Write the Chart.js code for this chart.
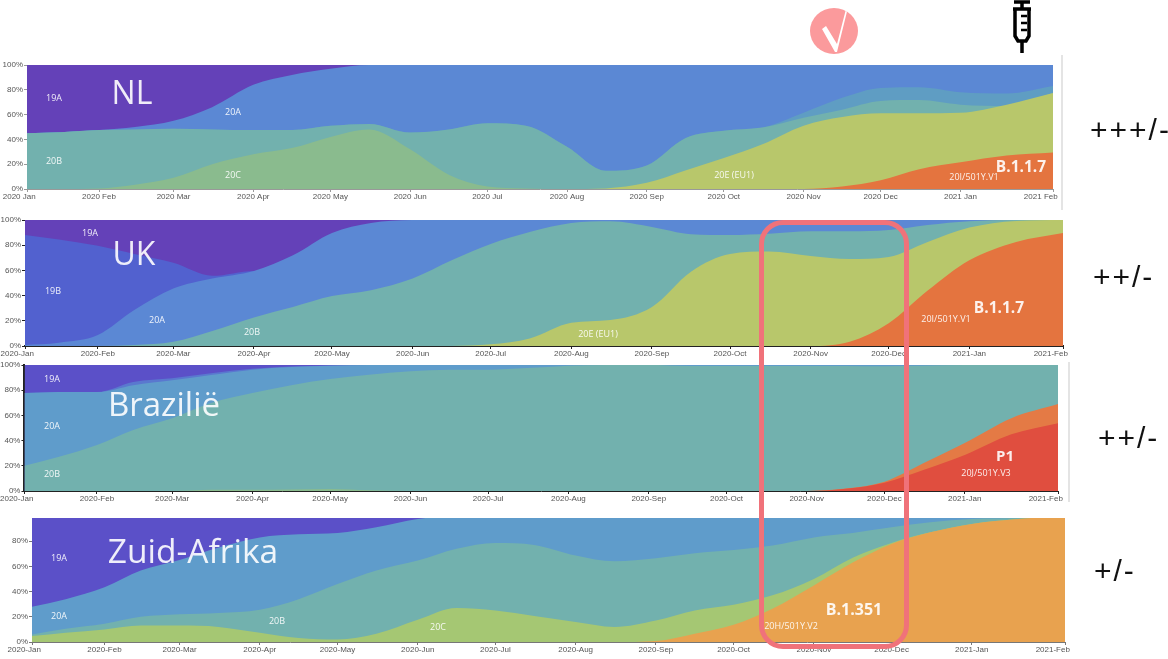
<!DOCTYPE html>
<html>
<head>
<meta charset="utf-8">
<script src="https://cdn.jsdelivr.net/npm/chart.js@4/dist/chart.umd.min.js"></script>
<style>
  html, body { margin: 0; padding: 0; background: #fff; }
  #page { position: relative; width: 1168px; height: 659px; overflow: hidden; font-family: "Open Sans", sans-serif; }
  canvas { position: absolute; left: 0; filter: blur(0.4px); }
  .note { position: absolute; color: #fff; white-space: nowrap; transform: translate(-50%, -50%); opacity: 0.9; }
  .score { position: absolute; color: #111; white-space: nowrap; font-family: "Liberation Sans", sans-serif; font-size: 30px; letter-spacing: 2px; transform: translateY(-50%); }
  #window { position: absolute; left: 759px; top: 220px; width: 140px; height: 419px; border: 5px solid #f0727a; border-radius: 24px; }
  .edge { position: absolute; width: 2px; background: #e4e4e4; }
</style>
</head>
<body>
<div id="page">
  <canvas id="nl" width="1168" height="154" style="top:57px"></canvas>
  <canvas id="uk" width="1168" height="156" style="top:212px"></canvas>
  <canvas id="br" width="1168" height="156" style="top:357px"></canvas>
  <canvas id="za" width="1168" height="154" style="top:510px"></canvas>
  <div class="edge" style="left:1061px;top:55px;height:155px"></div>
  <div class="edge" style="left:1068px;top:362px;height:140px"></div>
  <div id="window"></div>
  <svg style="position:absolute;left:810px;top:8px" width="48" height="46" viewBox="0 0 48 46">
    <ellipse cx="24" cy="23" rx="24" ry="23" fill="#fb9a9c"/>
    <path d="M12 21L16 18L27 36L35.5 3L37 3.5L27 44H25Z" fill="#fff"/>
  </svg>
  <svg style="position:absolute;left:1008px;top:0" width="28" height="54" viewBox="0 0 28 54">
    <path d="M6 2H22M14 2V8M5 9H23M7 9V36L10 41H18L21 36V9M14 41V53" fill="none" stroke="#000" stroke-width="3.5"/>
    <path d="M13 16H19M13 23H19M13 30H19" stroke="#000" stroke-width="2.5"/>
  </svg>
</div>
<script>
// sample days on the axis (month starts and mid months)
const days = [3, 16, 31, 45, 60, 75, 91, 106, 121, 136, 152, 167, 182, 197, 213, 228, 244, 259, 274, 289, 305, 320, 335, 350, 366, 384, 402];
const monthDays = [3, 31, 60, 91, 121, 152, 182, 213, 244, 274, 305, 335, 366, 402];
const monthNames = ['2020 Jan', '2020 Feb', '2020 Mar', '2020 Apr', '2020 May', '2020 Jun', '2020 Jul', '2020 Aug', '2020 Sep', '2020 Oct', '2020 Nov', '2020 Dec', '2021 Jan', '2021 Feb'];
const percentTicks = [0, 20, 40, 60, 80, 100];

// every series is the upper edge of its band, in percent
const flat100 = days.map(() => 100);

const nl20A = [45, 45.8, 47.5, 50, 55, 66, 84, 92, 97, 100, 100, 100, 100, 100, 100, 100, 100, 100, 100, 100, 100, 100, 100, 100, 100, 100, 100];
const nlThin = [45, 45.8, 47.5, 48, 48.5, 48, 47.5, 47.5, 51, 52.5, 45.5, 48, 53, 51, 34, 14.7, 19, 41, 47, 49.5, 61.5, 73.5, 81.5, 82, 78, 77, 83];
const nl20B = [45, 45.8, 47.5, 48, 48.5, 48, 47.5, 47.5, 51, 52.5, 45.5, 48, 53, 51, 34, 14.7, 19, 41, 47, 49.5, 57.5, 64, 71, 71.7, 68, 67, 77.5];
const nl20C = [0, 0, 0.5, 3.5, 9, 20, 28, 33, 42, 48, 32, 11.5, 2, 0.5, 0, 0, 0, 0, 0, 0, 0, 0, 0, 0, 0, 0, 0];
const nl20E = [0, 0, 0, 0, 0, 0, 0, 0, 0, 0, 0, 0, 0, 0, 0, 0.5, 5, 15, 25, 36, 51, 58, 61, 61, 61.5, 68, 77.5];
const nl20I = [0, 0, 0, 0, 0, 0, 0, 0, 0, 0, 0, 0, 0, 0, 0, 0, 0, 0, 0, 0, 0, 2, 7, 16, 21.5, 27, 29.5];

const uk19B = [88, 84.5, 79.5, 73, 66, 55.7, 59.6, 0, 0, 0, 0, 0, 0, 0, 0, 0, 0, 0, 0, 0, 0, 0, 0, 0, 0, 0, 0];
const uk20A = [0.8, 2.6, 8.7, 28.5, 45.6, 53.6, 59.6, 72, 89.7, 97.6, 100, 100, 100, 100, 100, 100, 100, 100, 100, 100, 100, 100, 100, 100, 100, 100, 100];
const uk20B = [0, 0, 0, 0.8, 3.4, 12, 22.7, 31, 39.6, 44.3, 53.6, 68, 81, 90.5, 97.6, 99, 94.5, 88.7, 88, 89, 91, 91, 92, 96, 99, 100, 100];
const uk20E = [0, 0, 0, 0, 0, 0, 0, 0, 0, 0, 0, 0, 1.3, 6, 18.5, 20.6, 31, 59, 73, 75, 71.5, 69, 70.7, 82.6, 94, 99.3, 100];
const uk20I = [0, 0, 0, 0, 0, 0, 0, 0, 0, 0, 0, 0, 0, 0, 0, 0, 0, 0, 0, 0, 0, 3.4, 18, 44, 68, 82.6, 89.7];

const br19B = [77.7, 78.5, 78.5, 86.5, 89.5, 93.5, 97, 98.8, 99.6, 100, 100, 100, 100, 100, 100, 100, 100, 100, 100, 100, 100, 100, 100, 100, 100, 100, 100];
const br20A = [77.7, 78.5, 78.5, 84, 87.8, 92, 96.3, 98.4, 99.5, 100, 100, 100, 100, 100, 100, 100, 100, 100, 100, 100, 100, 100, 100, 100, 100, 100, 100];
const br20B = [20, 27, 36.6, 48.5, 57.8, 69.8, 77.7, 84, 88.9, 92.3, 95, 96.3, 96.3, 97.6, 99.5, 100, 100, 99.3, 99.2, 99.2, 99.2, 99.2, 99, 99.4, 100, 100, 100];
const br20C = [0, 0, 0, 0, 0, 1, 1, 1.2, 1.5, 0.5, 0, 0, 0, 0, 0, 0, 0, 0, 0, 0, 0, 0, 0, 0, 0, 0, 0];
const br20I = [0, 0, 0, 0, 0, 0, 0, 0, 0, 0, 0, 0, 0, 0, 0, 0, 0, 0, 0, 0, 0, 2, 7.4, 22, 38, 57.8, 69];
const br20J = [0, 0, 0, 0, 0, 0, 0, 0, 0, 0, 0, 0, 0, 0, 0, 0, 0, 0, 0, 0, 0, 1.8, 6.6, 16.7, 28.6, 45, 53.8];

const za20A = [28, 34, 43.5, 56.7, 65, 75, 83, 85.5, 86.5, 91, 97.6, 100, 100, 100, 100, 100, 100, 100, 100, 100, 100, 100, 100, 100, 100, 100, 100];
const za20B = [6, 10.5, 14.5, 20, 22, 23, 25.6, 34, 46, 56.7, 64.6, 74, 78.6, 77, 68.6, 64, 66.5, 70.4, 73, 76.5, 83, 86.5, 91, 95, 97.6, 98.4, 100];
const za20C = [4.7, 7.4, 10, 13, 13, 12, 7.4, 3.2, 2, 6.6, 17.7, 27, 25, 20.6, 15.8, 11.9, 17, 25, 29.5, 37, 50, 66.8, 78.6, 87, 93.7, 97.6, 100];
const za20H = [0, 0, 0, 0, 0, 0, 0, 0, 0, 0, 0, 0, 0, 0, 0, 0, 0.8, 6.6, 13.7, 26.4, 44.9, 63, 77.8, 87, 93.7, 97.6, 100];

// lowest band first: chart.js paints dataset 0 last, so it ends up on top
function band(values, color) {
  return {
    data: days.map((d, i) => ({ x: d, y: values[i] })),
    backgroundColor: color,
    borderWidth: 0,
    pointRadius: 0,
    fill: 'origin',
    cubicInterpolationMode: 'monotone'
  };
}

function makeChart(id, box, bands, opts = {}) {
  const canvas = document.getElementById(id);
  const top = box.top - parseInt(canvas.style.top);
  const dash = opts.dash || false;
  const axis = opts.axis || '#555';
  return new Chart(canvas, {
    type: 'line',
    data: { datasets: bands },
    options: {
      responsive: false,
      animation: false,
      layout: { autoPadding: false, padding: { top: top, right: 1168 - box.right, left: 0, bottom: 0 } },
      plugins: { legend: { display: false }, tooltip: { enabled: false } },
      scales: {
        x: {
          type: 'linear',
          min: 3,
          max: 402,
          grid: { drawOnChartArea: false, tickLength: 3, color: axis },
          border: { color: axis, width: opts.xWidth || 1 },
          ticks: {
            autoSkip: false,
            maxRotation: 0,
            padding: 0,
            color: '#555',
            font: { size: 8 },
            callback: (v, i) => {
              const name = dash ? monthNames[i].replace(' ', '-') : monthNames[i];
              // the first and last labels sit left of their ticks, as in the source
              if (i === 0) return name + ' '.repeat(7);
              if (i === monthNames.length - 1) return name + ' '.repeat(11);
              return name;
            }
          },
          afterBuildTicks: (s) => { s.ticks = monthDays.map((d) => ({ value: d })); },
          afterFit: (s) => { s.height = canvas.height - top - (box.bottom - box.top); }
        },
        y: {
          min: 0,
          max: opts.yMax || 100,
          grid: { drawOnChartArea: false, tickLength: 3, color: axis },
          border: { color: axis, width: opts.yWidth || 1 },
          ticks: {
            color: '#555',
            padding: 1,
            font: { size: 8 },
            callback: (v) => v + '%'
          },
          afterBuildTicks: (s) => { s.ticks = percentTicks.filter((p) => p <= s.max).map((p) => ({ value: p })); },
          afterFit: (s) => { s.width = box.left; }
        }
      }
    }
  });
}

makeChart('nl', { left: 27, right: 1053, top: 65, bottom: 189 }, [
  band(nl20I, '#e4743f'), band(nl20E, '#b8c76b'), band(nl20C, '#8abb8e'), band(nl20B, '#72b1ae'),
  band(nlThin, '#5f9dc3'), band(nl20A, '#5b88d4'), band(flat100, '#6441b8')
], { axis: '#999' });

makeChart('uk', { left: 25, right: 1063, top: 220, bottom: 346 }, [
  band(uk20I, '#e4743f'), band(uk20E, '#b8c76b'), band(uk20B, '#72b1ae'), band(uk20A, '#5b88d4'),
  band(uk19B, '#5261cf'), band(flat100, '#6441b8')
], { dash: true, axis: '#222', xWidth: 2 });

makeChart('br', { left: 24, right: 1058, top: 365, bottom: 491 }, [
  band(br20J, '#e04e3f'), band(br20I, '#e47a45'), band(br20C, '#8abb8e'), band(br20B, '#72b1ae'),
  band(br20A, '#5f9ccb'), band(br19B, '#5a78cf'), band(flat100, '#5b50c8')
], { dash: true, axis: '#222', yWidth: 2 });

makeChart('za', { left: 32, right: 1065, top: 518, bottom: 642 }, [
  band(za20H, '#e8a24f'), band(za20C, '#a5c773'), band(za20B, '#72b1ae'), band(za20A, '#5f9ccb'),
  band(flat100, '#5b50c8')
], { dash: true, yMax: 98.4, axis: '#777' });

// captions written over the charts
const notes = [
  ['NL', 132, 91, 32, 400], ['UK', 134, 252, 32, 400], ['Brazilië', 164, 403, 33, 400], ['Zuid-Afrika', 193, 550, 33.5, 400],
  ['19A', 54, 97, 9, 400], ['20A', 233, 111, 9, 400], ['20B', 54, 160, 9, 400], ['20C', 233, 174, 9, 400],
  ['20E (EU1)', 734, 174, 9, 400], ['20I/501Y.V1', 974, 176, 9, 400], ['B.1.1.7', 1021, 166, 15.5, 700],
  ['19A', 90, 232, 9, 400], ['19B', 53, 290, 9, 400], ['20A', 157, 319, 9, 400], ['20B', 252, 331, 9, 400],
  ['20E (EU1)', 598, 333, 9, 400], ['20I/501Y.V1', 946, 318, 9, 400], ['B.1.1.7', 999, 307, 15.5, 700],
  ['19A', 52, 378, 9, 400], ['20A', 52, 425, 9, 400], ['20B', 52, 473, 9, 400], ['20J/501Y.V3', 986, 472, 9, 400], ['P1', 1005, 455, 15, 700],
  ['19A', 59, 557, 9, 400], ['20A', 59, 615, 9, 400], ['20B', 277, 620, 9, 400], ['20C', 438, 626, 9, 400],
  ['20H/501Y.V2', 791, 625, 9, 400], ['B.1.351', 854, 609, 16, 700]
];
const page = document.getElementById('page');
notes.forEach(([text, x, y, size, weight]) => {
  const el = document.createElement('div');
  el.className = 'note';
  el.textContent = text;
  el.style.cssText = `left:${x}px;top:${y}px;font-size:${size}px;font-weight:${weight}`;
  page.insertBefore(el, document.getElementById('window'));
});

// vaccine effect scores on the right
const scores = [['+++/-', 1090, 130], ['++/-', 1093, 277], ['++/-', 1098, 438], ['+/-', 1094, 571]];
scores.forEach(([text, x, y]) => {
  const el = document.createElement('div');
  el.className = 'score';
  el.textContent = text;
  el.style.cssText = `left:${x}px;top:${y}px`;
  page.appendChild(el);
});
</script>
</body>
</html>
